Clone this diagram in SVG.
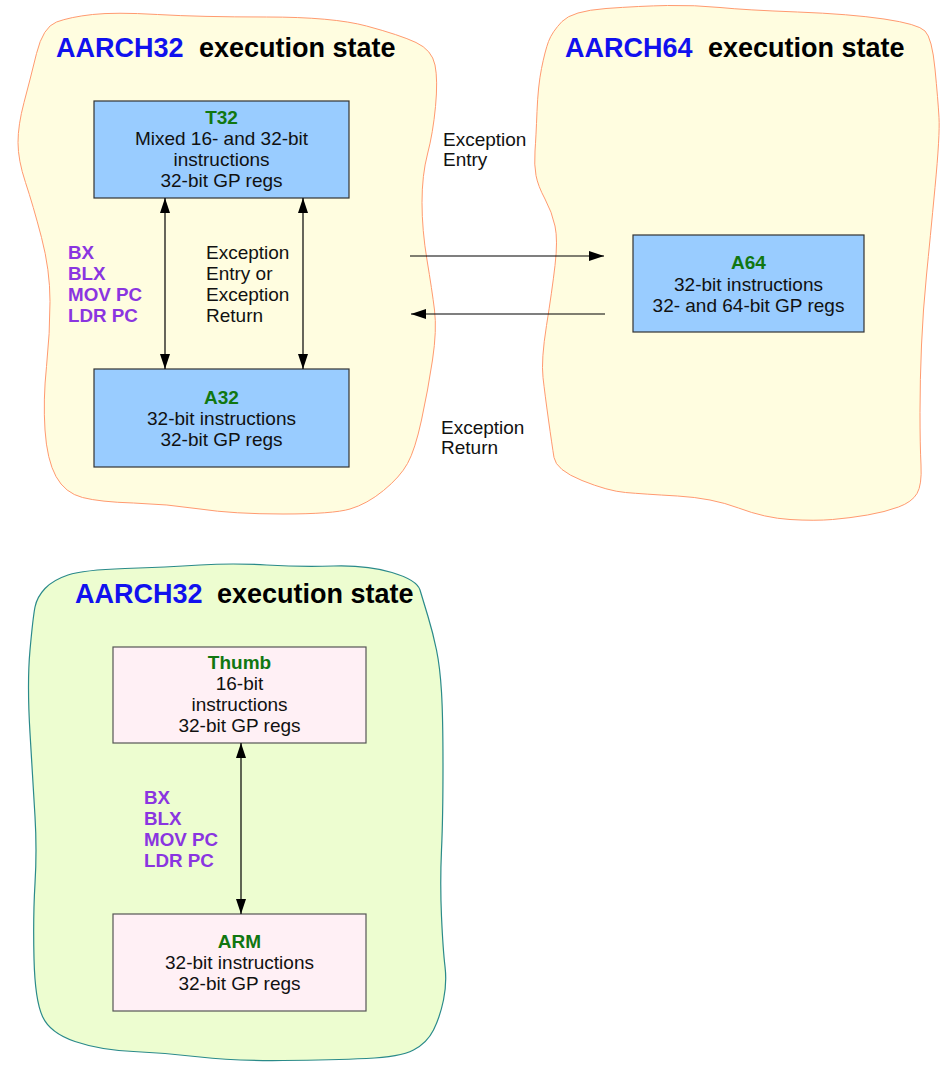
<svg xmlns="http://www.w3.org/2000/svg" width="943" height="1065" viewBox="0 0 943 1065">
<defs>
<style>
.blobY{fill:#fffde0;stroke:#ff9a70;stroke-width:1}
.blobG{fill:#edfdd0;stroke:#2a8a8a;stroke-width:1.2}
.boxB{fill:#99ccff;stroke:#333;stroke-width:1.2}
.boxP{fill:#fff0f5;stroke:#555;stroke-width:1.2}
text{font-family:"Liberation Sans",Arial,sans-serif}
.title{font-size:27px;font-weight:bold}
.tb{fill:#1111ee}
.tk{fill:#000}
.body{font-size:19px;fill:#111}
.mid{text-anchor:middle}
.lbl{font-weight:bold;fill:#117711}
.op{font-size:18.8px;font-weight:bold;fill:#8a35e0}
.conn{stroke:#000;stroke-width:1.2;fill:none}
</style>
<marker id="ah" viewBox="0 0 15 10" refX="15" refY="5" markerWidth="15" markerHeight="10" markerUnits="userSpaceOnUse" orient="auto-start-reverse"><path d="M0,0 L15,5 L0,10 Z" fill="#000"/></marker>
</defs>

<g id="aarch32-state">
<path class="blobY" d="M56.5,22 Q70,17 92.5,14.5 Q115,12 157.5,14.5 Q200,17 266.5,17 Q333,17 366.5,26 Q400,35 416,42.5 Q432,50 435,65 Q438,80 435.5,106.5 Q433,133 427.5,154 Q422,175 422,202.5 Q422,230 427,260 Q432,290 434.5,310 Q437,330 432.5,360 Q428,390 421.5,420 Q415,450 407.5,463.5 Q400,477 383.5,490.5 Q367,504 350,509 Q333,514 283,514 Q233,514 200,509 Q167,504 133.5,503 Q100,502 82.5,497.5 Q65,493 56,476.5 Q47,460 45,430 Q43,400 46.5,366.5 Q50,333 50,301.5 Q50,270 41.5,237.5 Q33,205 25.5,182.5 Q18,160 18,142.5 Q18,125 24,102.5 Q30,80 36.5,53.5 Q43,27 56.5,22 Z"/>
<text class="title"><tspan class="tb" x="56" y="57">AARCH32</tspan><tspan class="tk" x="199" y="57">execution state</tspan></text>
</g>

<g id="aarch64-state">
<path class="blobY" d="M562,21.5 Q572,11 606,8.5 Q640,6 667.5,5.5 Q695,5 720,7.5 Q745,10 797.5,12 Q850,14 884,19 Q918,24 925,31 Q932,38 935,69 Q938,100 939,117.5 Q940,135 935,187.5 Q930,240 926.5,275 Q923,310 921.5,345 Q920,380 920,412.5 Q920,445 921,465 Q922,485 917,493.5 Q912,502 898.5,507 Q885,512 867.5,515 Q850,518 832.5,519.5 Q815,521 790,519.5 Q765,518 738.5,508 Q712,498 677.5,496 Q643,494 625.5,492.5 Q608,491 582,480.5 Q556,470 554,457.5 Q552,445 548.5,420 Q545,395 543,377.5 Q541,360 546.5,325.5 Q552,291 555,265.5 Q558,240 555,226 Q552,212 545,199 Q538,186 536,175.5 Q534,165 535,151 Q536,137 537,111.5 Q538,86 541.5,68.5 Q545,51 548.5,41.5 Q552,32 562,21.5 Z"/>
<text class="title"><tspan class="tb" x="565" y="57">AARCH64</tspan><tspan class="tk" x="708" y="57">execution state</tspan></text>
</g>

<g id="aarch32-legacy-state">
<path class="blobG" d="M45,588.5 Q53,580 68,575 Q83,570 125,568.5 Q167,567 200,565 Q233,563 266.5,565 Q300,567 333.5,566 Q367,565 392,572.5 Q417,580 420,590 Q423,600 428,616.5 Q433,633 436.5,650 Q440,667 441.5,692 Q443,717 443,767 Q443,817 441.5,850 Q440,883 441.5,916.5 Q443,950 445,966.5 Q447,983 443.5,1000 Q440,1017 433.5,1030 Q427,1043 413.5,1050 Q400,1057 366.5,1058.5 Q333,1060 283,1060.5 Q233,1061 200,1057 Q167,1053 133.5,1051.5 Q100,1050 75,1041.5 Q50,1033 42.5,1016.5 Q35,1000 34,958.5 Q33,917 35,883.5 Q37,850 35,816.5 Q33,783 30,733 Q27,683 30,650 Q33,617 35,607 Q37,597 45,588.5 Z"/>
<text class="title"><tspan class="tb" x="75" y="603">AARCH32</tspan><tspan class="tk" x="217" y="603">execution state</tspan></text>
</g>

<g id="t32">
<rect class="boxB" x="94" y="101" width="255" height="97"/>
<text class="body mid"><tspan class="lbl" x="221.5" y="124">T32</tspan><tspan x="221.5" y="145">Mixed 16- and 32-bit</tspan><tspan x="221.5" y="166">instructions</tspan><tspan x="221.5" y="187">32-bit GP regs</tspan></text>
</g>

<g id="a32">
<rect class="boxB" x="94" y="369" width="255" height="98"/>
<text class="body mid"><tspan class="lbl" x="221.5" y="404">A32</tspan><tspan x="221.5" y="425">32-bit instructions</tspan><tspan x="221.5" y="446">32-bit GP regs</tspan></text>
</g>

<g id="a64">
<rect class="boxB" x="633" y="235" width="231" height="97"/>
<text class="body mid"><tspan class="lbl" x="748.5" y="269">A64</tspan><tspan x="748.5" y="291">32-bit instructions</tspan><tspan x="748.5" y="312">32- and 64-bit GP regs</tspan></text>
</g>

<g id="thumb">
<rect class="boxP" x="113" y="647" width="253" height="96"/>
<text class="body mid"><tspan class="lbl" x="239.5" y="669">Thumb</tspan><tspan x="239.5" y="690">16-bit</tspan><tspan x="239.5" y="711">instructions</tspan><tspan x="239.5" y="732">32-bit GP regs</tspan></text>
</g>

<g id="arm">
<rect class="boxP" x="113" y="914" width="253" height="97"/>
<text class="body mid"><tspan class="lbl" x="239.5" y="948">ARM</tspan><tspan x="239.5" y="969">32-bit instructions</tspan><tspan x="239.5" y="990">32-bit GP regs</tspan></text>
</g>

<g id="connectors">
<line class="conn" x1="165" y1="198" x2="165" y2="369" marker-start="url(#ah)" marker-end="url(#ah)"/>
<line class="conn" x1="303" y1="198" x2="303" y2="369" marker-start="url(#ah)" marker-end="url(#ah)"/>
<line class="conn" x1="410" y1="256" x2="604" y2="256" marker-end="url(#ah)"/>
<line class="conn" x1="605" y1="314" x2="411" y2="314" stroke="#444" marker-end="url(#ah)"/>
<line class="conn" x1="241" y1="743" x2="241" y2="914" stroke="#444" marker-start="url(#ah)" marker-end="url(#ah)"/>
</g>

<g id="labels">
<text class="op"><tspan x="68" y="259">BX</tspan><tspan x="68" y="280">BLX</tspan><tspan x="68" y="301">MOV PC</tspan><tspan x="68" y="322">LDR PC</tspan></text>
<text class="body"><tspan x="206" y="259">Exception</tspan><tspan x="206" y="280">Entry or</tspan><tspan x="206" y="301">Exception</tspan><tspan x="206" y="322">Return</tspan></text>
<text class="body"><tspan x="443" y="146">Exception</tspan><tspan x="443" y="166">Entry</tspan></text>
<text class="body"><tspan x="441" y="434">Exception</tspan><tspan x="441" y="454">Return</tspan></text>
<text class="op"><tspan x="144" y="804">BX</tspan><tspan x="144" y="825">BLX</tspan><tspan x="144" y="846">MOV PC</tspan><tspan x="144" y="867">LDR PC</tspan></text>
</g>
</svg>
